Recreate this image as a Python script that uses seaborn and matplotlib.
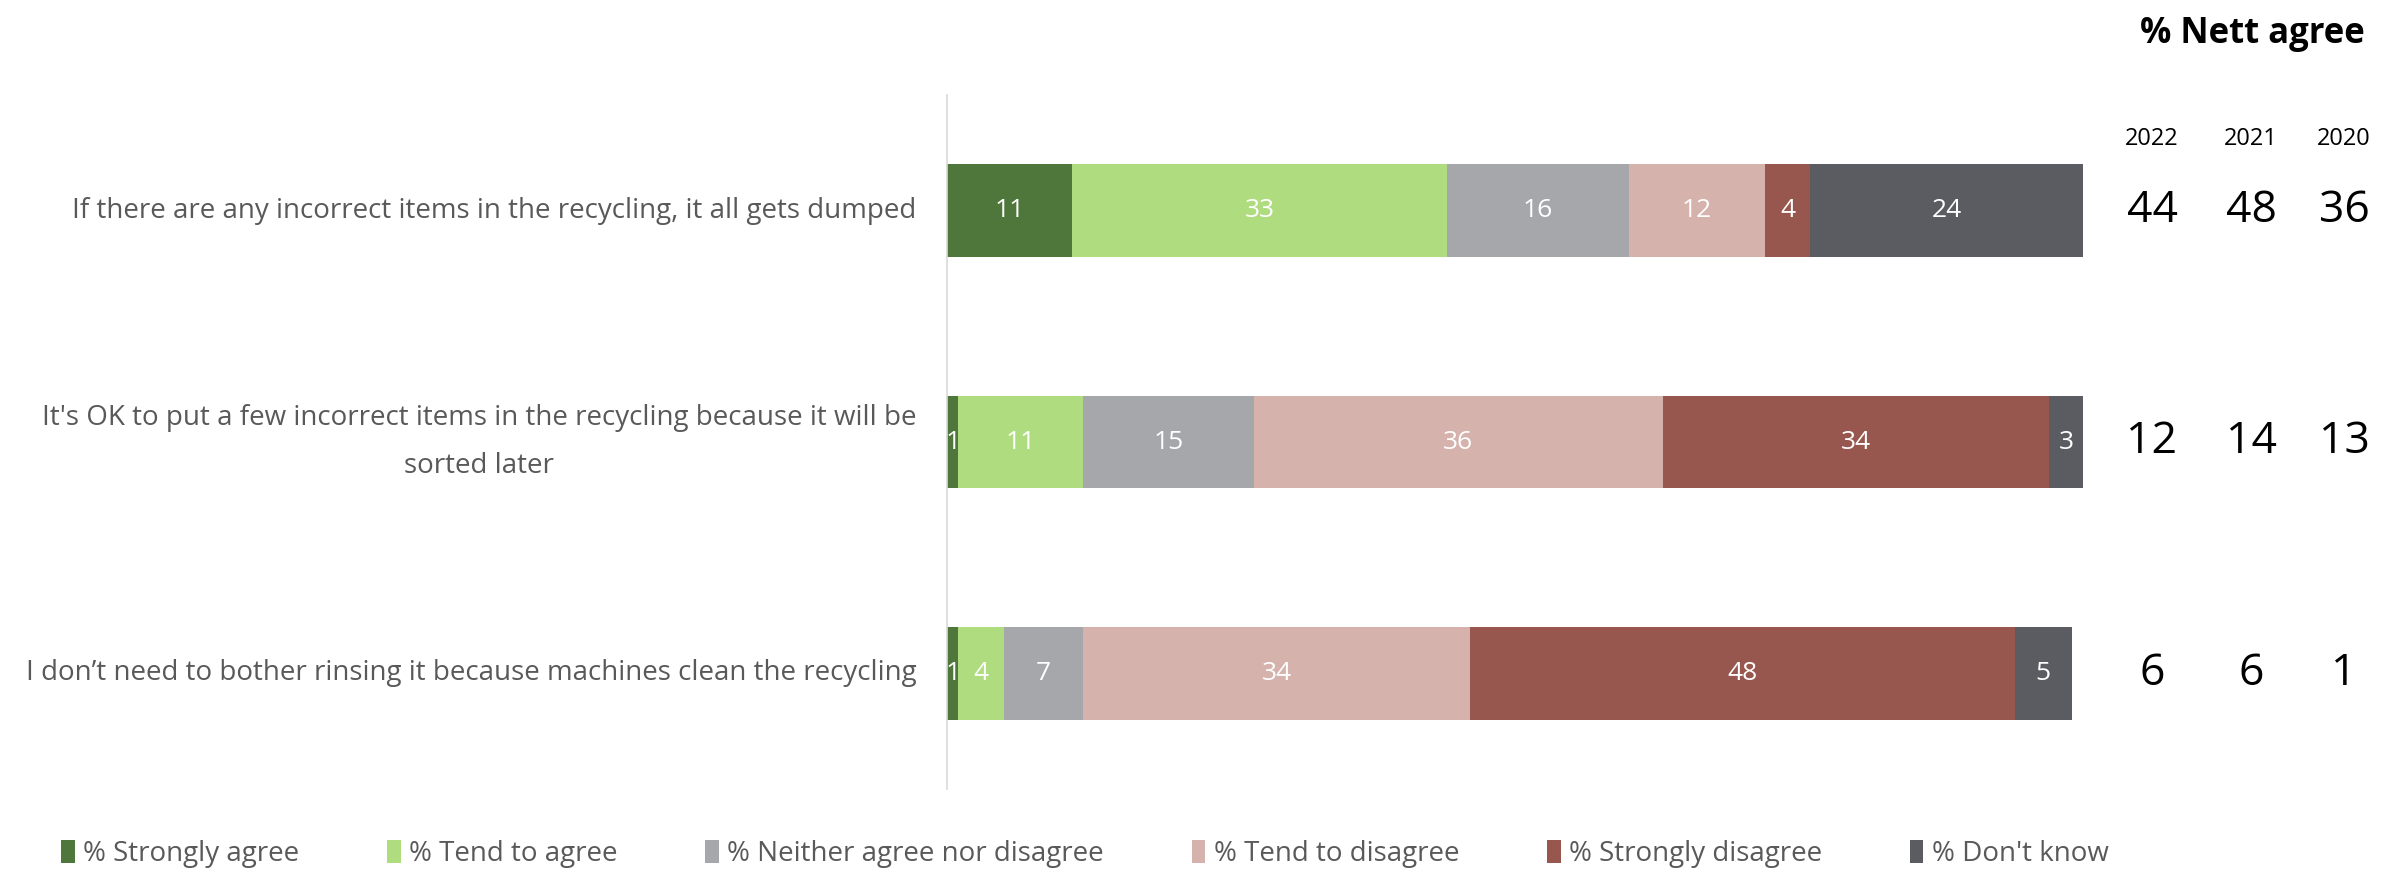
import numpy as np
import pandas as pd
import matplotlib
matplotlib.use("Agg")
import matplotlib.pyplot as plt
import matplotlib.transforms as mtransforms
from matplotlib.patches import Patch
import seaborn as sns

# ---- data -------------------------------------------------------------
statements = [
    "If there are any incorrect items in the recycling, it all gets dumped",
    "It's OK to put a few incorrect items in the recycling because it will be\nsorted later",
    "I don\u2019t need to bother rinsing it because machines clean the recycling",
]
responses = [
    "% Strongly agree",
    "% Tend to agree",
    "% Neither agree nor disagree",
    "% Tend to disagree",
    "% Strongly disagree",
    "% Don't know",
]
strongly_agree = [11, 1, 1]
tend_to_agree = [33, 11, 4]
neither = [16, 15, 7]
tend_to_disagree = [12, 36, 34]
strongly_disagree = [4, 34, 48]
dont_know = [24, 3, 5]

years = ["2022", "2021", "2020"]
nett_2022 = [44, 12, 6]
nett_2021 = [48, 14, 6]
nett_2020 = [36, 13, 1]

colors = ["#4F773C", "#B0DC80", "#A6A7AB", "#D5B2AC", "#98574E", "#5B5C61"]

# ---- figure -----------------------------------------------------------
sns.set_theme(style="white")
plt.rcParams["font.family"] = ["Open Sans", "DejaVu Sans"]

W, H = 2394, 872
fig = plt.figure(figsize=(W / 100, H / 100), dpi=100)
ax = fig.add_axes([947 / W, (H - 789) / H, (2083 - 947) / W, 694 / H])

values = np.array([strongly_agree, tend_to_agree, neither,
                   tend_to_disagree, strongly_disagree, dont_know]).T
cum = values.cumsum(axis=1)

df = pd.DataFrame(cum, columns=responses)
df["statement"] = statements

# stacked bars: draw cumulative totals from the outermost segment inward
for i in reversed(range(len(responses))):
    sns.barplot(data=df, x=responses[i], y="statement", order=statements,
                orient="h", color=colors[i], saturation=1, width=0.4,
                errorbar=None, linewidth=0, edgecolor="none", ax=ax)

# segment value labels
for r in range(len(statements)):
    for i in range(len(responses)):
        v = values[r, i]
        ax.text(cum[r, i] - v / 2, r, f"{v}", ha="center", va="center",
                color="white", fontsize=19)

ax.set_xlim(0, 100)
ax.set_ylim(2.5, -0.5)
ax.set_xlabel("")
ax.set_ylabel("")
ax.set_xticks([])
for side in ["top", "right", "bottom"]:
    ax.spines[side].set_visible(False)
ax.spines["left"].set_color("#D9D9D9")
ax.spines["left"].set_linewidth(1.2)
ax.tick_params(axis="y", length=0, pad=22, labelsize=20, labelcolor="#595959")
for t in ax.get_yticklabels():
    t.set_multialignment("center")
    t.set_linespacing(1.95)
    t.set_verticalalignment("center")

# ---- nett agree columns ------------------------------------------------
col_x = [2152 / W, 2251 / W, 2344 / W]
fig.text(2252 / W, 1 - 34 / H, "% Nett agree", ha="center", va="center",
         fontsize=25, fontweight="bold", color="black")
for x, yr in zip(col_x, years):
    fig.text(x, 1 - 139 / H, yr, ha="center", va="center", fontsize=17,
             color="black")
blend = mtransforms.blended_transform_factory(fig.transFigure, ax.transData)
for x, col in zip(col_x, [nett_2022, nett_2021, nett_2020]):
    for r, v in enumerate(col):
        ax.text(x, r, f"{v}", transform=blend, ha="center", va="center",
                fontsize=32, color="black")

# ---- legend -------------------------------------------------------------
handles = [Patch(facecolor=c, edgecolor="none") for c in colors]
fig.legend(handles, responses, loc="center left",
           bbox_to_anchor=(50 / W, 1 - 854 / H), ncol=6, frameon=False,
           fontsize=20, labelcolor="#595959", handlelength=0.5,
           handleheight=0.9, handletextpad=0.3, columnspacing=3.15,
           borderaxespad=0)

fig.savefig("out.png", dpi=100, facecolor="white")
